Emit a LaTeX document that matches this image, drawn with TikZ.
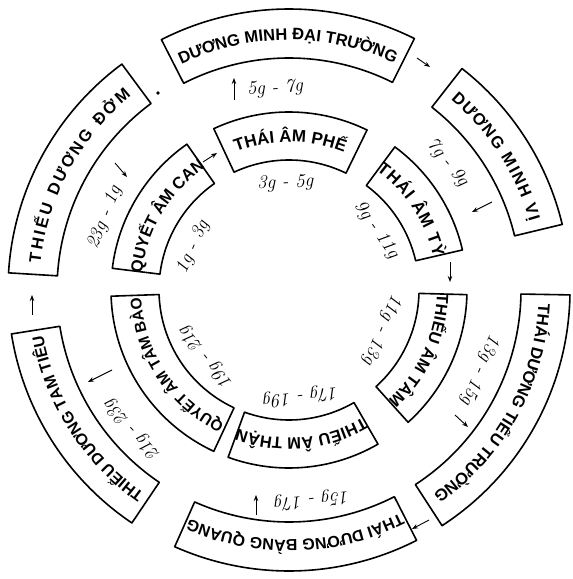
\documentclass[tikz,border=0pt]{standalone}
\usepackage{fontspec}
\usetikzlibrary{arrows.meta}
\newfontfamily\boxfont{Liberation Sans}
% ring segment box: #1 start angle, #2 end angle (clockwise), #3 inner r, #4 outer r
\newcommand\mysegbox[4]{%
  \draw[seg] (#1:#4) arc[start angle=#1,end angle=#2,radius=#4] -- (#2:#3)
     arc[start angle=#2,end angle=#1,radius=#3] -- cycle;}
% text along a clockwise arc: #1 name, #2 centre angle, #3 baseline r, #4 size, #5 tracking,
% #6 list of char/width(em)
\newcommand\arctext[6]{%
  \gdef\totw{0}%
  \foreach \ch/\cw in {#6}{%
    \pgfmathsetmacro\tmp{\totw+#4*\cw+#5}%
    \xdef\totw{\tmp}}%
  \pgfmathsetmacro\tmp{#2+deg((\totw-#5)/2/#3)}%
  \xdef\curang{\tmp}%
  \foreach \ch/\cw [count=\kk] in {#6}{%
    \pgfmathsetmacro\wch{#4*\cw}%
    \pgfmathsetmacro\myang{\curang-deg(\wch/2/#3)}%
    \node[anchor=base,inner sep=0pt,outer sep=0pt,rotate=\myang-90,
          font=\boxfont\bfseries\fontsize{#4}{#4}\selectfont] (#1-\kk) at (\myang:#3) {\ch};
    \pgfmathsetmacro\tmp{\curang-deg((\wch+#5)/#3)}%
    \xdef\curang{\tmp}}%
}
\begin{document}
\begin{tikzpicture}[x=1pt,y=1pt,
  seg/.style={line width=1.6pt,line join=round},
  flow/.style={line width=0.9pt,-{Stealth[length=6pt,width=4.5pt]}},
  lbl/.style={font=\fontsize{19}{19}\selectfont\itshape,inner sep=0pt}]
\useasboundingbox (0,0) rectangle (573,579);
\begin{scope}[shift={(289,289)}]
  % outer ring
  \mysegbox{117}{63.5}{232}{281}
  \mysegbox{52}{13.5}{232}{281}
  \mysegbox{-1}{-57}{232}{281}
  \mysegbox{-63}{-114}{232}{281}
  \mysegbox{236}{189}{232}{281}
  \mysegbox{176.5}{126.5}{232}{281}
  \arctext{odt}{90.25}{250}{16.5}{0}{D/.722,Ư/.79,Ơ/.8,N/.722,G/.778,~/.278,M/.833,I/.278,N/.722,H/.722,~/.278,Đ/.722,Ạ/.722,I/.278,~/.278,T/.611,R/.722,Ư/.79,Ờ/.8,N/.722,G/.778}
  \arctext{ov}{32.75}{250}{16.5}{1.5}{D/.722,Ư/.79,Ơ/.8,N/.722,G/.778,~/.278,M/.833,I/.278,N/.722,H/.722,~/.278,V/.667,Ị/.278}
  \arctext{ott}{-29}{250}{16.5}{0}{T/.611,H/.722,Á/.722,I/.278,~/.278,D/.722,Ư/.79,Ơ/.8,N/.722,G/.778,~/.278,T/.611,I/.278,Ể/.667,U/.722,~/.278,T/.611,R/.722,Ư/.79,Ờ/.8,N/.722,G/.778}
  \arctext{obq}{-88.5}{250}{16}{0}{T/.611,H/.722,Á/.722,I/.278,~/.278,D/.722,Ư/.79,Ơ/.8,N/.722,G/.778,~/.278,B/.722,À/.722,N/.722,G/.778,~/.278,Q/.778,U/.722,A/.722,N/.722,G/.778}
  \arctext{ott2}{212.5}{250}{16}{0}{T/.611,H/.722,I/.278,Ế/.667,U/.722,~/.278,D/.722,Ư/.79,Ơ/.8,N/.722,G/.778,~/.278,T/.611,A/.722,M/.833,~/.278,T/.611,I/.278,Ê/.667,U/.722}
  \arctext{od}{151.5}{250}{16.5}{2.5}{T/.611,H/.722,I/.278,Ế/.667,U/.722,~/.278,D/.722,Ư/.79,Ơ/.8,N/.722,G/.778,~/.278,Đ/.722,Ở/.8,M/.833}
  % inner ring
  \mysegbox{115}{64}{130}{178}
  \mysegbox{53.5}{13}{130}{178}
  \mysegbox{-1.5}{-48}{130}{178}
  \mysegbox{-60}{-110}{130}{178}
  \mysegbox{245}{182}{130}{178}
  \mysegbox{173}{125}{130}{178}
  \arctext{ip}{89.5}{148}{17}{0}{T/.611,H/.722,Á/.722,I/.278,~/.278,Â/.722,M/.833,~/.278,P/.667,H/.722,Ế/.667}
  \arctext{it}{33.25}{148}{17}{1}{T/.611,H/.722,Á/.722,I/.278,~/.278,Â/.722,M/.833,~/.278,T/.611,Ỳ/.667}
  \arctext{itm}{-24.75}{148}{16.5}{0}{T/.611,H/.722,I/.278,Ế/.667,U/.722,~/.278,Â/.722,M/.833,~/.278,T/.611,Â/.722,M/.833}
  \arctext{ith}{-85}{148}{16.5}{0}{T/.611,H/.722,I/.278,Ế/.667,U/.722,~/.278,Â/.722,M/.833,~/.278,T/.611,H/.722,Ậ/.722,N/.722}
  \arctext{itb}{213.5}{148}{15.5}{0}{Q/.778,U/.722,Y/.667,Ế/.667,T/.611,~/.278,Â/.722,M/.833,~/.278,T/.611,Â/.722,M/.833,~/.278,B/.722,À/.722,O/.778}
  \arctext{ic}{149}{148}{16.5}{0}{Q/.778,U/.722,Y/.667,Ế/.667,T/.611,~/.278,Â/.722,M/.833,~/.278,C/.722,A/.722,N/.722}
  % hour labels
  \node[lbl,rotate=4]     (t57)   at (94:202)    {5g - 7g};
  \node[lbl,rotate=2]     (t35)   at (92:107)    {3g - 5g};
  \node[lbl,rotate=66]    (t13)   at (156:105)   {1g - 3g};
  \node[lbl,rotate=68.6]  (t231)  at (158.6:198) {23g - 1g};
  \node[lbl,rotate=-51.2] (t79)   at (38.8:203)  {7g - 9g};
  \node[lbl,rotate=-55.4] (t911)  at (34.6:106)  {9g - 11g};
  \node[lbl,rotate=-113]  (t1113) at (-23:101)   {11g - 13g};
  \node[lbl,rotate=-112.7](t1315) at (-22.7:207) {13g - 15g};
  \node[lbl,rotate=-173.7](t1517) at (-83.7:211) {15g - 17g};
  \node[lbl,rotate=-173.6](t1719) at (-83.6:107) {17g - 19g};
  \node[lbl,rotate=129]   (t1921) at (219:107)   {19g - 21g};
  \node[lbl,rotate=131.7] (t2123) at (221.7:210) {21g - 23g};
\end{scope}
% arrow end points
\coordinate (a1s) at (203,417);  \coordinate (a1e) at (217,426);
\coordinate (a2s) at (234,479);  \coordinate (a2e) at (234,501);
\coordinate (a3s) at (417,521);  \coordinate (a3e) at (430,512);
\coordinate (a4s) at (492,377);  \coordinate (a4e) at (472,367);
\coordinate (a5s) at (450,317);  \coordinate (a5e) at (450,297);
\coordinate (a6s) at (455,164);  \coordinate (a6e) at (468,152);
\coordinate (a7s) at (429,59);   \coordinate (a7e) at (412,50);
\coordinate (a8s) at (256,64);   \coordinate (a8e) at (256,84);
\coordinate (a9s) at (112,209);  \coordinate (a9e) at (88,197);
\coordinate (a10s) at (32,264);  \coordinate (a10e) at (32,284);
\coordinate (a11s) at (115,416); \coordinate (a11e) at (127,402);
\foreach \i in {1,...,11} \draw[flow] (a\i s) -- (a\i e);
\fill (158,486) circle (1.8);
\end{tikzpicture}
\end{document}
